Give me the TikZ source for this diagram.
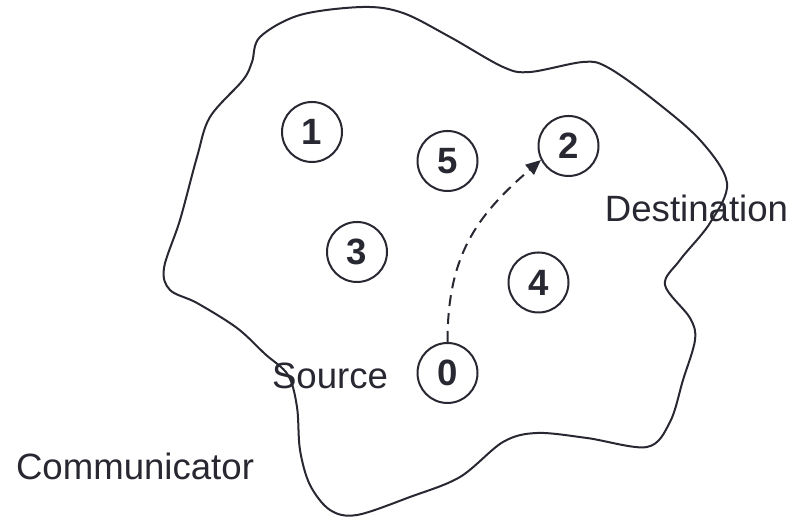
\documentclass[tikz,border=0pt]{standalone}
\usepackage{fontspec}
\setmainfont{Liberation Sans}
\usetikzlibrary{arrows.meta}
\definecolor{ink}{RGB}{40,40,50}
\tikzset{
  agent/.style={circle, draw=ink, line width=1pt, minimum size=30pt, inner sep=0pt,
    text=ink, font=\fontsize{18.3}{22}\selectfont\bfseries},
  lbl/.style={anchor=base, inner sep=0pt, text=ink, font=\fontsize{18.3}{22}\selectfont},
  outline/.style={draw=ink, line width=1pt},
  route/.style={draw=ink, line width=1pt, dash pattern=on 5.5pt off 3.5pt,
    -{Triangle[length=7.5pt,width=6.5pt]}}
}
\begin{document}
\begin{tikzpicture}[x=0.5pt,y=0.5pt]
\useasboundingbox (0,0) rectangle (792,517);
% communicator outline (pixel coords converted: y = 517 - py)
\draw[outline] plot[smooth cycle, tension=0.55] coordinates {
 (260,480) (300,502) (363,510) (403,504) (450,480) (503,450) (530,445)
 (583,455) (607,450) (650,420) (700,377) (727,334) (710,294) (680,257)
 (665,232) (690,199) (695,177) (683,137) (670,95) (647,70) (587,79)
 (537,84) (503,75) (460,40) (410,20) (357,2) (330,7) (310,32) (300,67)
 (297,110) (288,142) (265,163) (237,189) (197,214) (170,227) (164,249)
 (180,297) (197,360) (210,400) (243,437) (252,455)};
% agents
\node[agent] (n1) at (312,385) {1};
\node[agent] (n5) at (447.5,356) {5};
\node[agent] (n2) at (568.5,371) {2};
\node[agent] (n3) at (357,265) {3};
\node[agent] (n4) at (538.5,234.5) {4};
\node[agent] (n0) at (447.5,144) {0};
% labels
\node[lbl] (src) at (330,128) {Source};
\node[lbl] (dst) at (696.5,295) {Destination};
\node[lbl] (com) at (135,37) {Communicator};
% route
\draw[route] (n0.north) .. controls (447.5,260) and (475,300) .. (n2.207);
\end{tikzpicture}
\end{document}
